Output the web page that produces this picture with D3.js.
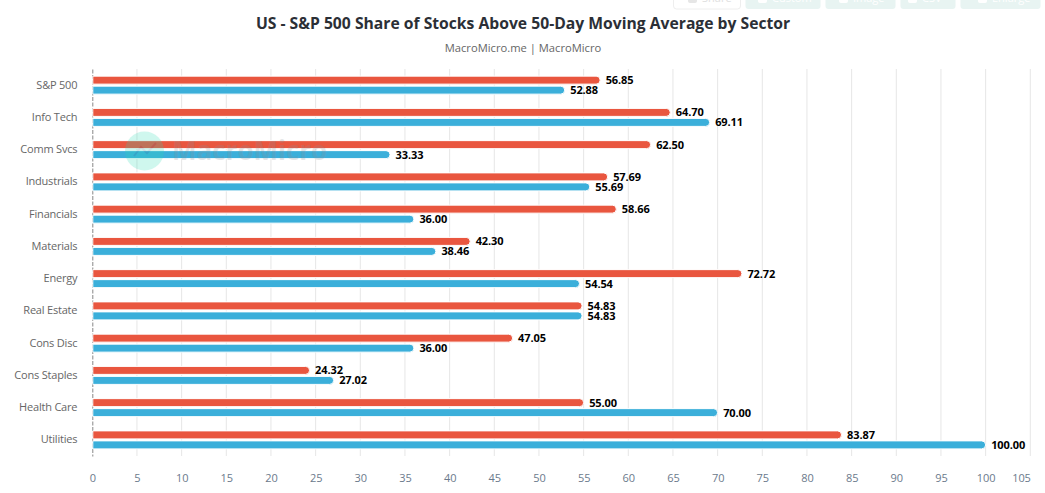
<!DOCTYPE html>
<html>
<head>
<meta charset="utf-8">
<script src="https://cdn.jsdelivr.net/npm/d3@7"></script>
<style>
html, body { margin: 0; padding: 0; background: #fff; overflow: hidden; }
svg { display: block; font-family: "Open Sans", "Noto Sans", sans-serif; }
</style>
</head>
<body>
<svg></svg>
<script>
var categories = ["S&P 500", "Info Tech", "Comm Svcs", "Industrials", "Financials", "Materials", "Energy", "Real Estate", "Cons Disc", "Cons Staples", "Health Care", "Utilities"];
var latest = [56.85, 64.70, 62.50, 57.69, 58.66, 42.30, 72.72, 54.83, 47.05, 24.32, 55.00, 83.87];
var previous = [52.88, 69.11, 33.33, 55.69, 36.00, 38.46, 54.54, 54.83, 36.00, 27.02, 70.00, 100.00];
var xTicks = d3.range(0, 106, 5);
var buttons = ["Share", "Custom", "Image", "CSV", "Enlarge"];

var svgWidth = 1045, svgHeight = 493;

var svg = d3.select("svg")
    .attr("width", svgWidth)
    .attr("height", svgHeight);

var xScale = d3.scaleLinear().domain([0, 105]).range([92.3, 1030.3]);
var yScale = d3.scaleBand().domain(categories).range([69, 456]);
var barHeight = 8, barShift = 5;

// faint toolbar cut off by the top of the picture
var btnX = [673, 745, 825, 900, 960], btnW = [67, 75, 70, 55, 80], btnText = [702, 772, 853, 922, 992];
buttons.forEach(function (b, i) {
    svg.append("rect")
        .attr("x", btnX[i] + 0.5).attr("y", -12)
        .attr("width", btnW[i]).attr("height", 21).attr("rx", 3)
        .attr("fill", i == 0 ? "#fff" : "#e8f4f2")
        .attr("stroke", i == 0 ? "#eee" : "none");
    svg.append("rect")
        .attr("x", btnText[i] - 14).attr("y", -6)
        .attr("width", 9).attr("height", 9).attr("rx", 2)
        .attr("fill", i == 0 ? "#e6e6e6" : "#fff");
    svg.append("text")
        .attr("x", btnText[i]).attr("y", 2)
        .attr("font-size", 11)
        .attr("fill", i == 0 ? "#e0e0e0" : "#fff")
        .text(b);
});

svg.append("text")
    .attr("x", 523).attr("y", 29)
    .attr("text-anchor", "middle")
    .attr("font-size", 15.7).attr("font-weight", 700)
    .attr("fill", "#2b2f36")
    .text("US - S&P 500 Share of Stocks Above 50-Day Moving Average by Sector");

svg.append("text")
    .attr("x", 523).attr("y", 52)
    .attr("text-anchor", "middle")
    .attr("font-size", 11.2)
    .attr("fill", "#666")
    .text("MacroMicro.me | MacroMicro");

// grid
var grid = svg.append("g");
grid.selectAll("line")
    .data(xTicks.slice(1))
    .join("line")
    .attr("x1", d => xScale(d)).attr("x2", d => xScale(d))
    .attr("y1", 69).attr("y2", 456)
    .attr("stroke", "#e6e6e6");

// category axis
var yAxis = d3.axisLeft(yScale).tickSize(0).tickPadding(15);
var yG = svg.append("g")
    .attr("transform", "translate(92.3,0)")
    .call(yAxis);
yG.select(".domain").attr("stroke", "#888").attr("stroke-dasharray", "4,1.5");
yG.selectAll("text")
    .attr("font-size", 11).attr("letter-spacing", "-0.2")
    .attr("fill", "#666")
    .attr("font-family", "\"Open Sans\", sans-serif");

var xAxis = d3.axisBottom(xScale).tickValues(xTicks).tickSize(0).tickPadding(18);
var xG = svg.append("g")
    .attr("transform", "translate(0,456)")
    .call(xAxis);
xG.select(".domain").remove();
xG.selectAll("text")
    .attr("font-size", 11).attr("letter-spacing", "-0.1")
    .attr("fill", "#6b7a8c")
    .attr("font-family", "\"Open Sans\", sans-serif")
    .attr("text-anchor", d => d == 105 ? "end" : "middle");

function drawSeries(values, color, shift) {
    var g = svg.append("g");
    var rows = categories.map(function (c, i) { return { c: c, v: values[i] }; });
    g.selectAll("path")
        .data(rows)
        .join("path")
        .attr("fill", color)
        .attr("stroke", "#fff")
        .attr("d", function (d) {
            var x0 = xScale(0) + 0.5, x1 = xScale(d.v), r = barHeight / 2;
            var y0 = yScale(d.c) + yScale.bandwidth() / 2 + shift - r;
            return "M" + x0 + "," + y0 + "H" + (x1 - r) +
                "A" + r + "," + r + " 0 0 1 " + (x1 - r) + "," + (y0 + barHeight) +
                "H" + x0 + "Z";
        });
    g.selectAll("text")
        .data(rows)
        .join("text")
        .attr("x", d => xScale(d.v) + 5.5)
        .attr("y", d => yScale(d.c) + yScale.bandwidth() / 2 + shift + 4)
        .attr("font-size", 11).attr("font-weight", 700)
        .attr("letter-spacing", "-0.1")
        .attr("fill", "#000")
        .text(d => d.v.toFixed(2));
}

drawSeries(latest, "#e9563f", -barShift);
drawSeries(previous, "#3bafda", barShift);

// watermark lies over the bars
var mark = svg.append("g").attr("opacity", 0.22).style("pointer-events", "none");
mark.append("circle")
    .attr("cx", 144.5).attr("cy", 151).attr("r", 19.5)
    .attr("fill", "#2bdcb4");
mark.append("path")
    .attr("d", "M134,156 L141,147 L147,153 L156,143")
    .attr("fill", "none").attr("stroke", "#2a7f8f").attr("stroke-width", 2);
mark.append("text")
    .attr("x", 172).attr("y", 160)
    .attr("font-size", 26).attr("font-weight", 700)
    .attr("fill", "#8a8f96")
    .text("MacroMicro");
</script>
</body>
</html>
